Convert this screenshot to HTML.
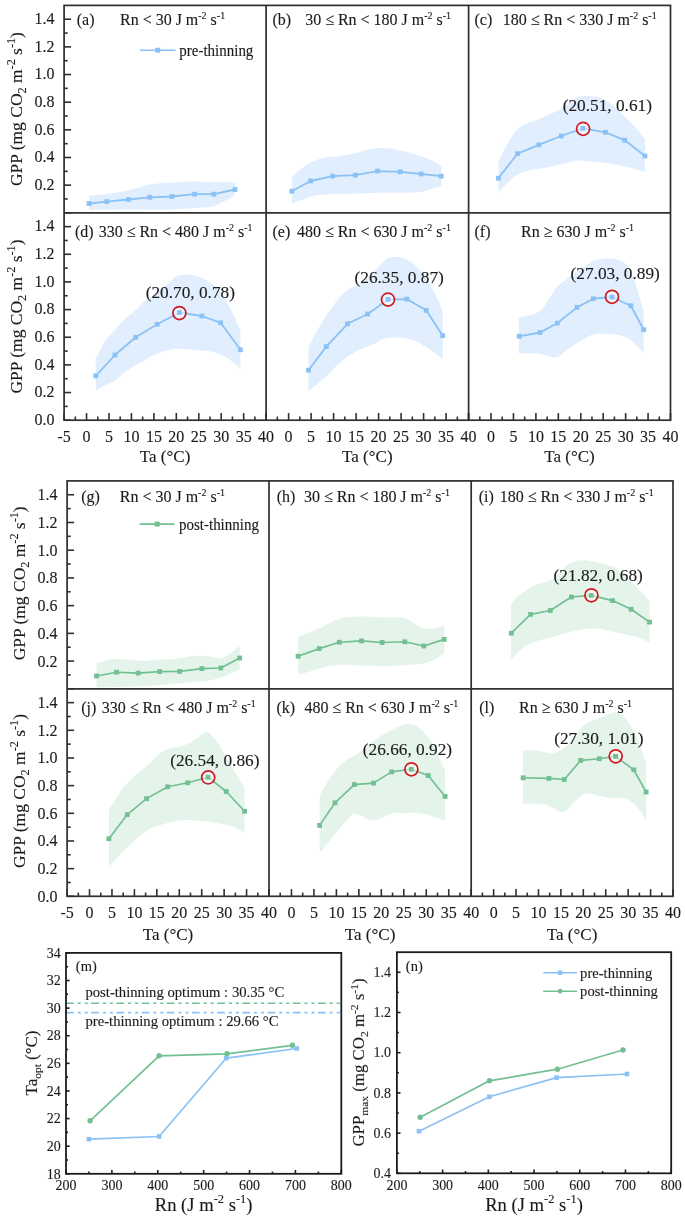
<!DOCTYPE html>
<html><head><meta charset="utf-8"><style>
html,body{margin:0;padding:0;background:#fff;width:685px;height:1217px;overflow:hidden;}
svg{display:block;font-family:"Liberation Serif", serif;will-change:transform;}
text{stroke:#1a1a1a;stroke-width:0.12px;paint-order:stroke;}
</style></head><body>
<svg width="685" height="1217" viewBox="0 0 685 1217" font-family='"Liberation Serif", serif' fill="#1a1a1a">
<rect width="685" height="1217" fill="#fff"/>
<path d="M89,195.5 C91.95,195.25 100.15,194.83 106.7,194 C113.25,193.17 121.12,192.08 128.3,190.5 C135.48,188.92 142.52,185.83 149.8,184.5 C157.08,183.17 164.53,183 172,182.5 C179.47,182 187.63,181.58 194.6,181.5 C201.57,181.42 207.07,181.83 213.8,182 C220.53,182.17 231.47,182.42 235,182.5 L235,195.5 C231.83,197.17 220.17,203.58 216,205.5 C211.83,207.42 213.57,206.55 210,207 C206.43,207.45 200.93,207.82 194.6,208.2 C188.27,208.58 179.47,209.08 172,209.3 C164.53,209.52 157.08,209.5 149.8,209.5 C142.52,209.5 135.48,209.3 128.3,209.3 C121.12,209.3 113.25,209.43 106.7,209.5 C100.15,209.57 91.95,209.67 89,209.7 Z" fill="#e1eefd"/>
<path d="M291.8,176.8 C292.85,175.92 295.95,173.25 298.1,171.5 C300.25,169.75 302.5,167.83 304.7,166.3 C306.9,164.77 308.88,163.5 311.3,162.3 C313.72,161.1 316.35,159.97 319.2,159.1 C322.05,158.23 325.33,157.55 328.4,157.1 C331.47,156.65 334.53,156.73 337.6,156.4 C340.67,156.07 343.73,155.65 346.8,155.1 C349.87,154.55 352.93,153.87 356,153.1 C359.07,152.33 362.38,151.22 365.2,150.5 C368.02,149.78 370.3,149.2 372.9,148.8 C375.5,148.4 377.73,148.1 380.8,148.1 C383.87,148.1 387.8,148.35 391.3,148.8 C394.8,149.25 398.3,150.03 401.8,150.8 C405.3,151.57 408.8,152.42 412.3,153.4 C415.8,154.38 419.52,155.5 422.8,156.7 C426.08,157.9 428.93,159.02 432,160.6 C435.07,162.18 439.67,165.27 441.2,166.2 L441.2,185.4 C440.33,185.77 438.18,186.8 436,187.6 C433.82,188.4 431.17,189.43 428.1,190.2 C425.03,190.97 421.55,191.77 417.6,192.2 C413.65,192.63 408.78,192.7 404.4,192.8 C400.02,192.9 395.68,192.8 391.3,192.8 C386.92,192.8 382.68,192.73 378.1,192.8 C373.52,192.87 368.37,193.02 363.8,193.2 C359.23,193.38 355.07,193.78 350.7,193.9 C346.33,194.02 341.98,193.8 337.6,193.9 C333.22,194 328.35,194.18 324.4,194.5 C320.45,194.82 316.97,195.13 313.9,195.8 C310.83,196.47 308.63,197.62 306,198.5 C303.37,199.38 300.47,200.23 298.1,201.1 C295.73,201.97 292.85,203.27 291.8,203.7 Z" fill="#e1eefd"/>
<path d="M498.5,162.3 C499.27,160.55 501.23,155.53 503.1,151.8 C504.97,148.07 507.5,143.42 509.7,139.9 C511.9,136.38 514.1,133.1 516.3,130.7 C518.5,128.3 520.72,126.92 522.9,125.5 C525.08,124.08 526.78,123.3 529.4,122.2 C532.02,121.1 535.32,120.22 538.6,118.9 C541.88,117.58 545.6,115.83 549.1,114.3 C552.6,112.77 556.32,111.57 559.6,109.7 C562.88,107.83 566.07,105.05 568.8,103.1 C571.53,101.15 573.65,99.15 576,98 C578.35,96.85 580.43,96.5 582.9,96.2 C585.37,95.9 587.73,95.88 590.8,96.2 C593.87,96.52 597.8,96.68 601.3,98.1 C604.8,99.52 608.3,102.07 611.8,104.7 C615.3,107.33 619.02,110.83 622.3,113.9 C625.58,116.97 628.65,120.03 631.5,123.1 C634.35,126.17 637.15,129.48 639.4,132.3 C641.65,135.12 644.07,138.72 645,140 L645,172 C643.63,171.63 639.7,170.62 636.8,169.8 C633.9,168.98 631.33,167.98 627.6,167.1 C623.87,166.22 618.78,165.27 614.4,164.5 C610.02,163.73 605.68,163.05 601.3,162.5 C596.92,161.95 591.65,161.52 588.1,161.2 C584.55,160.88 583.22,160.42 580,160.6 C576.78,160.78 572.85,161.47 568.8,162.3 C564.75,163.13 560.07,164.62 555.7,165.6 C551.33,166.58 546.98,167.43 542.6,168.2 C538.22,168.97 533.78,169 529.4,170.2 C525.02,171.4 520.23,173 516.3,175.4 C512.37,177.8 508.77,181.75 505.8,184.6 C502.83,187.45 499.72,191.18 498.5,192.5 Z" fill="#e1eefd"/>
<path d="M95.8,358.7 C97.27,355.92 102.23,345.92 104.6,342 C106.97,338.08 107.63,337.95 110,335.2 C112.37,332.45 115.88,328.57 118.8,325.5 C121.72,322.43 124.58,319.42 127.5,316.8 C130.42,314.18 133.33,312.52 136.3,309.8 C139.27,307.08 142.5,302.92 145.3,300.5 C148.1,298.08 150.33,297.33 153.1,295.3 C155.87,293.27 158.98,290.63 161.9,288.3 C164.82,285.97 168.12,283.35 170.6,281.3 C173.08,279.25 174.6,277.1 176.8,276 C179,274.9 181.18,274.85 183.8,274.7 C186.42,274.55 189.23,274.47 192.5,275.1 C195.77,275.73 199.62,276.68 203.4,278.5 C207.18,280.32 211.7,282.77 215.2,286 C218.7,289.23 221.55,293.52 224.4,297.9 C227.25,302.28 229.9,307.48 232.3,312.3 C234.7,317.12 237.45,323.73 238.8,326.8 C240.15,329.87 240.13,330.05 240.4,330.7 L240.4,368.8 C239.27,367.82 236.05,364.87 233.6,362.9 C231.15,360.93 228.77,358.75 225.7,357 C222.63,355.25 218.48,353.38 215.2,352.4 C211.92,351.42 209.72,351.53 206,351.1 C202.28,350.67 197.28,350.13 192.9,349.8 C188.52,349.47 183.43,349.1 179.7,349.1 C175.97,349.1 173.78,349.25 170.5,349.8 C167.22,350.35 163.42,351.2 160,352.4 C156.58,353.6 153.33,355.22 150,357 C146.67,358.78 143.92,360.75 140,363.1 C136.08,365.45 130.58,368.3 126.5,371.1 C122.42,373.9 119.15,377.47 115.5,379.9 C111.85,382.33 107.88,383.88 104.6,385.7 C101.32,387.52 97.27,389.95 95.8,390.8 Z" fill="#e1eefd"/>
<path d="M308.5,347.2 C309.27,345.67 311.23,341.5 313.1,338 C314.97,334.5 317.5,329.92 319.7,326.2 C321.9,322.48 324.1,318.98 326.3,315.7 C328.5,312.42 330.72,309.57 332.9,306.5 C335.08,303.43 336.78,300.15 339.4,297.3 C342.02,294.45 345.32,291.62 348.6,289.4 C351.88,287.18 355.6,286.15 359.1,284 C362.6,281.85 366.32,279.32 369.6,276.5 C372.88,273.68 376.4,269.68 378.8,267.1 C381.2,264.52 382.45,262.5 384,261 C385.55,259.5 386.32,258.75 388.1,258.1 C389.88,257.45 392.5,257.2 394.7,257.1 C396.9,257 398.88,256.88 401.3,257.5 C403.72,258.12 406.58,259.17 409.2,260.8 C411.82,262.43 414.38,264.68 417,267.3 C419.62,269.92 422.27,272.77 424.9,276.5 C427.53,280.23 430.38,285.32 432.8,289.7 C435.22,294.08 437.75,299.25 439.4,302.8 C441.05,306.35 442.15,309.63 442.7,311 L442.7,359.5 C442.15,359.03 441.05,358.05 439.4,356.7 C437.75,355.35 435.22,353.15 432.8,351.4 C430.38,349.65 427.75,347.95 424.9,346.2 C422.05,344.45 418.77,342.17 415.7,340.9 C412.63,339.63 409.57,339.15 406.5,338.6 C403.43,338.05 400.37,337.65 397.3,337.6 C394.23,337.55 390.72,337.97 388.1,338.3 C385.48,338.63 383.58,338.82 381.6,339.6 C379.62,340.38 378.85,341.73 376.2,343 C373.55,344.27 368.98,345.83 365.7,347.2 C362.42,348.57 359.78,349.43 356.5,351.2 C353.22,352.97 349.28,355.4 346,357.8 C342.72,360.2 340.08,362.55 336.8,365.6 C333.52,368.65 329.8,372.82 326.3,376.1 C322.8,379.38 318.77,382.77 315.8,385.3 C312.83,387.83 309.72,390.3 308.5,391.3 Z" fill="#e1eefd"/>
<path d="M518.8,317.7 C520.18,317.37 523.75,316.68 527.1,315.7 C530.45,314.72 535.62,313.98 538.9,311.8 C542.18,309.62 543.95,306.55 546.8,302.6 C549.65,298.65 552.93,291.83 556,288.1 C559.07,284.37 561.92,282.83 565.2,280.2 C568.48,277.57 572.2,274.7 575.7,272.3 C579.2,269.9 583.1,267.72 586.2,265.8 C589.3,263.88 591.38,261.93 594.3,260.8 C597.22,259.67 600.58,259.33 603.7,259 C606.82,258.67 609.88,258.4 613,258.8 C616.12,259.2 619.67,259.8 622.4,261.4 C625.13,263 627.47,265.3 629.4,268.4 C631.33,271.5 632.45,275.73 634,280 C635.55,284.27 637.33,289.52 638.7,294 C640.07,298.48 641.37,304.07 642.2,306.9 C643.03,309.73 643.45,310.32 643.7,311 L643.7,352.8 C643.07,352.17 641.32,350.42 639.9,349 C638.48,347.58 636.95,345.97 635.2,344.3 C633.45,342.63 631.53,340.37 629.4,339 C627.27,337.63 625.13,336.88 622.4,336.1 C619.67,335.32 616.12,334.68 613,334.3 C609.88,333.92 606.82,333.8 603.7,333.8 C600.58,333.8 597.22,333.7 594.3,334.3 C591.38,334.9 589.3,335.78 586.2,337.4 C583.1,339.02 579.2,341.7 575.7,344 C572.2,346.3 568.27,349.02 565.2,351.2 C562.13,353.38 559.93,356.23 557.3,357.1 C554.67,357.97 552.25,356.95 549.4,356.4 C546.55,355.85 543.48,354.33 540.2,353.8 C536.92,353.27 533.27,353.3 529.7,353.2 C526.13,353.1 520.62,353.2 518.8,353.2 Z" fill="#e1eefd"/>
<polyline points="89.05,203.5 106.7,201.6 128.5,199.5 149.8,197.3 172,196.5 194.6,194.2 213.8,194.2 235,189.5" fill="none" stroke="#8bc2f5" stroke-width="1.8" stroke-linejoin="round"/>
<polyline points="291.8,191.2 310.6,181 332.6,176.1 355.3,175.1 377.5,171.1 400.2,171.8 421.2,174 441.2,176.1" fill="none" stroke="#8bc2f5" stroke-width="1.8" stroke-linejoin="round"/>
<polyline points="498.4,178.2 517.5,153.7 538.8,144.9 561.2,136 582.9,128.4 605.5,132.3 624.7,140.2 645,156" fill="none" stroke="#8bc2f5" stroke-width="1.8" stroke-linejoin="round"/>
<polyline points="95.8,375.9 115,355 135.7,337.3 157.2,324.3 179.4,312.5 201.8,316 220.7,322.8 240.4,349.8" fill="none" stroke="#8bc2f5" stroke-width="1.8" stroke-linejoin="round"/>
<polyline points="308.5,370.2 326.3,346.6 347.6,323.8 367.7,314 388,299.4 406.9,299.1 426.2,310.3 442.7,335.7" fill="none" stroke="#8bc2f5" stroke-width="1.8" stroke-linejoin="round"/>
<polyline points="519.2,336.3 540,332.5 557.3,323.2 577,307.4 593.4,298.7 612.1,297 630.8,305.7 643.7,329.7" fill="none" stroke="#8bc2f5" stroke-width="1.8" stroke-linejoin="round"/>
<circle cx="583.1" cy="128.85" r="5.6" fill="#fff" fill-opacity="0.55"/>
<circle cx="179.4" cy="313" r="5.6" fill="#fff" fill-opacity="0.55"/>
<circle cx="388" cy="299.6" r="5.6" fill="#fff" fill-opacity="0.55"/>
<circle cx="612" cy="296.8" r="5.6" fill="#fff" fill-opacity="0.55"/>
<rect x="86.65" y="201.1" width="4.8" height="4.8" fill="#8bc2f5"/>
<rect x="104.3" y="199.2" width="4.8" height="4.8" fill="#8bc2f5"/>
<rect x="126.1" y="197.1" width="4.8" height="4.8" fill="#8bc2f5"/>
<rect x="147.4" y="194.9" width="4.8" height="4.8" fill="#8bc2f5"/>
<rect x="169.6" y="194.1" width="4.8" height="4.8" fill="#8bc2f5"/>
<rect x="192.2" y="191.8" width="4.8" height="4.8" fill="#8bc2f5"/>
<rect x="211.4" y="191.8" width="4.8" height="4.8" fill="#8bc2f5"/>
<rect x="232.6" y="187.1" width="4.8" height="4.8" fill="#8bc2f5"/>
<rect x="289.4" y="188.8" width="4.8" height="4.8" fill="#8bc2f5"/>
<rect x="308.2" y="178.6" width="4.8" height="4.8" fill="#8bc2f5"/>
<rect x="330.2" y="173.7" width="4.8" height="4.8" fill="#8bc2f5"/>
<rect x="352.9" y="172.7" width="4.8" height="4.8" fill="#8bc2f5"/>
<rect x="375.1" y="168.7" width="4.8" height="4.8" fill="#8bc2f5"/>
<rect x="397.8" y="169.4" width="4.8" height="4.8" fill="#8bc2f5"/>
<rect x="418.8" y="171.6" width="4.8" height="4.8" fill="#8bc2f5"/>
<rect x="438.8" y="173.7" width="4.8" height="4.8" fill="#8bc2f5"/>
<rect x="496" y="175.8" width="4.8" height="4.8" fill="#8bc2f5"/>
<rect x="515.1" y="151.3" width="4.8" height="4.8" fill="#8bc2f5"/>
<rect x="536.4" y="142.5" width="4.8" height="4.8" fill="#8bc2f5"/>
<rect x="558.8" y="133.6" width="4.8" height="4.8" fill="#8bc2f5"/>
<rect x="580.5" y="126" width="4.8" height="4.8" fill="#8bc2f5"/>
<rect x="603.1" y="129.9" width="4.8" height="4.8" fill="#8bc2f5"/>
<rect x="622.3" y="137.8" width="4.8" height="4.8" fill="#8bc2f5"/>
<rect x="642.6" y="153.6" width="4.8" height="4.8" fill="#8bc2f5"/>
<rect x="93.4" y="373.5" width="4.8" height="4.8" fill="#8bc2f5"/>
<rect x="112.6" y="352.6" width="4.8" height="4.8" fill="#8bc2f5"/>
<rect x="133.3" y="334.9" width="4.8" height="4.8" fill="#8bc2f5"/>
<rect x="154.8" y="321.9" width="4.8" height="4.8" fill="#8bc2f5"/>
<rect x="177" y="310.1" width="4.8" height="4.8" fill="#8bc2f5"/>
<rect x="199.4" y="313.6" width="4.8" height="4.8" fill="#8bc2f5"/>
<rect x="218.3" y="320.4" width="4.8" height="4.8" fill="#8bc2f5"/>
<rect x="238" y="347.4" width="4.8" height="4.8" fill="#8bc2f5"/>
<rect x="306.1" y="367.8" width="4.8" height="4.8" fill="#8bc2f5"/>
<rect x="323.9" y="344.2" width="4.8" height="4.8" fill="#8bc2f5"/>
<rect x="345.2" y="321.4" width="4.8" height="4.8" fill="#8bc2f5"/>
<rect x="365.3" y="311.6" width="4.8" height="4.8" fill="#8bc2f5"/>
<rect x="385.6" y="297" width="4.8" height="4.8" fill="#8bc2f5"/>
<rect x="404.5" y="296.7" width="4.8" height="4.8" fill="#8bc2f5"/>
<rect x="423.8" y="307.9" width="4.8" height="4.8" fill="#8bc2f5"/>
<rect x="440.3" y="333.3" width="4.8" height="4.8" fill="#8bc2f5"/>
<rect x="516.8" y="333.9" width="4.8" height="4.8" fill="#8bc2f5"/>
<rect x="537.6" y="330.1" width="4.8" height="4.8" fill="#8bc2f5"/>
<rect x="554.9" y="320.8" width="4.8" height="4.8" fill="#8bc2f5"/>
<rect x="574.6" y="305" width="4.8" height="4.8" fill="#8bc2f5"/>
<rect x="591" y="296.3" width="4.8" height="4.8" fill="#8bc2f5"/>
<rect x="609.7" y="294.6" width="4.8" height="4.8" fill="#8bc2f5"/>
<rect x="628.4" y="303.3" width="4.8" height="4.8" fill="#8bc2f5"/>
<rect x="641.3" y="327.3" width="4.8" height="4.8" fill="#8bc2f5"/>
<circle cx="583.1" cy="128.85" r="6.5" fill="none" stroke="#d21c25" stroke-width="1.75"/>
<circle cx="179.4" cy="313" r="6.5" fill="none" stroke="#d21c25" stroke-width="1.75"/>
<circle cx="388" cy="299.6" r="6.5" fill="none" stroke="#d21c25" stroke-width="1.75"/>
<circle cx="612" cy="296.8" r="6.5" fill="none" stroke="#d21c25" stroke-width="1.75"/>
<rect x="64.1" y="5.4" width="606.4" height="414.8" fill="none" stroke="#2f2f2f" stroke-width="1.7"/>
<line x1="266.1" y1="5.4" x2="266.1" y2="420.2" stroke="#2f2f2f" stroke-width="1.7"/>
<line x1="468.6" y1="5.4" x2="468.6" y2="420.2" stroke="#2f2f2f" stroke-width="1.7"/>
<line x1="64.1" y1="212.8" x2="670.5" y2="212.8" stroke="#2f2f2f" stroke-width="1.7"/>
<line x1="64.1" y1="212.8" x2="71.1" y2="212.8" stroke="#2f2f2f" stroke-width="1.6"/>
<line x1="64.1" y1="198.97" x2="67.7" y2="198.97" stroke="#2f2f2f" stroke-width="1.6"/>
<line x1="64.1" y1="185.15" x2="71.1" y2="185.15" stroke="#2f2f2f" stroke-width="1.6"/>
<line x1="64.1" y1="171.32" x2="67.7" y2="171.32" stroke="#2f2f2f" stroke-width="1.6"/>
<line x1="64.1" y1="157.49" x2="71.1" y2="157.49" stroke="#2f2f2f" stroke-width="1.6"/>
<line x1="64.1" y1="143.67" x2="67.7" y2="143.67" stroke="#2f2f2f" stroke-width="1.6"/>
<line x1="64.1" y1="129.84" x2="71.1" y2="129.84" stroke="#2f2f2f" stroke-width="1.6"/>
<line x1="64.1" y1="116.01" x2="67.7" y2="116.01" stroke="#2f2f2f" stroke-width="1.6"/>
<line x1="64.1" y1="102.19" x2="71.1" y2="102.19" stroke="#2f2f2f" stroke-width="1.6"/>
<line x1="64.1" y1="88.36" x2="67.7" y2="88.36" stroke="#2f2f2f" stroke-width="1.6"/>
<line x1="64.1" y1="74.53" x2="71.1" y2="74.53" stroke="#2f2f2f" stroke-width="1.6"/>
<line x1="64.1" y1="60.71" x2="67.7" y2="60.71" stroke="#2f2f2f" stroke-width="1.6"/>
<line x1="64.1" y1="46.88" x2="71.1" y2="46.88" stroke="#2f2f2f" stroke-width="1.6"/>
<line x1="64.1" y1="33.05" x2="67.7" y2="33.05" stroke="#2f2f2f" stroke-width="1.6"/>
<line x1="64.1" y1="19.23" x2="71.1" y2="19.23" stroke="#2f2f2f" stroke-width="1.6"/>
<line x1="64.1" y1="420.2" x2="71.1" y2="420.2" stroke="#2f2f2f" stroke-width="1.6"/>
<line x1="64.1" y1="406.37" x2="67.7" y2="406.37" stroke="#2f2f2f" stroke-width="1.6"/>
<line x1="64.1" y1="392.55" x2="71.1" y2="392.55" stroke="#2f2f2f" stroke-width="1.6"/>
<line x1="64.1" y1="378.72" x2="67.7" y2="378.72" stroke="#2f2f2f" stroke-width="1.6"/>
<line x1="64.1" y1="364.89" x2="71.1" y2="364.89" stroke="#2f2f2f" stroke-width="1.6"/>
<line x1="64.1" y1="351.07" x2="67.7" y2="351.07" stroke="#2f2f2f" stroke-width="1.6"/>
<line x1="64.1" y1="337.24" x2="71.1" y2="337.24" stroke="#2f2f2f" stroke-width="1.6"/>
<line x1="64.1" y1="323.41" x2="67.7" y2="323.41" stroke="#2f2f2f" stroke-width="1.6"/>
<line x1="64.1" y1="309.59" x2="71.1" y2="309.59" stroke="#2f2f2f" stroke-width="1.6"/>
<line x1="64.1" y1="295.76" x2="67.7" y2="295.76" stroke="#2f2f2f" stroke-width="1.6"/>
<line x1="64.1" y1="281.93" x2="71.1" y2="281.93" stroke="#2f2f2f" stroke-width="1.6"/>
<line x1="64.1" y1="268.11" x2="67.7" y2="268.11" stroke="#2f2f2f" stroke-width="1.6"/>
<line x1="64.1" y1="254.28" x2="71.1" y2="254.28" stroke="#2f2f2f" stroke-width="1.6"/>
<line x1="64.1" y1="240.45" x2="67.7" y2="240.45" stroke="#2f2f2f" stroke-width="1.6"/>
<line x1="64.1" y1="226.63" x2="71.1" y2="226.63" stroke="#2f2f2f" stroke-width="1.6"/>
<line x1="64.1" y1="420.2" x2="64.1" y2="413" stroke="#2f2f2f" stroke-width="1.6"/>
<line x1="75.32" y1="420.2" x2="75.32" y2="416.5" stroke="#2f2f2f" stroke-width="1.6"/>
<line x1="86.54" y1="420.2" x2="86.54" y2="413" stroke="#2f2f2f" stroke-width="1.6"/>
<line x1="97.77" y1="420.2" x2="97.77" y2="416.5" stroke="#2f2f2f" stroke-width="1.6"/>
<line x1="108.99" y1="420.2" x2="108.99" y2="413" stroke="#2f2f2f" stroke-width="1.6"/>
<line x1="120.21" y1="420.2" x2="120.21" y2="416.5" stroke="#2f2f2f" stroke-width="1.6"/>
<line x1="131.43" y1="420.2" x2="131.43" y2="413" stroke="#2f2f2f" stroke-width="1.6"/>
<line x1="142.66" y1="420.2" x2="142.66" y2="416.5" stroke="#2f2f2f" stroke-width="1.6"/>
<line x1="153.88" y1="420.2" x2="153.88" y2="413" stroke="#2f2f2f" stroke-width="1.6"/>
<line x1="165.1" y1="420.2" x2="165.1" y2="416.5" stroke="#2f2f2f" stroke-width="1.6"/>
<line x1="176.32" y1="420.2" x2="176.32" y2="413" stroke="#2f2f2f" stroke-width="1.6"/>
<line x1="187.54" y1="420.2" x2="187.54" y2="416.5" stroke="#2f2f2f" stroke-width="1.6"/>
<line x1="198.77" y1="420.2" x2="198.77" y2="413" stroke="#2f2f2f" stroke-width="1.6"/>
<line x1="209.99" y1="420.2" x2="209.99" y2="416.5" stroke="#2f2f2f" stroke-width="1.6"/>
<line x1="221.21" y1="420.2" x2="221.21" y2="413" stroke="#2f2f2f" stroke-width="1.6"/>
<line x1="232.43" y1="420.2" x2="232.43" y2="416.5" stroke="#2f2f2f" stroke-width="1.6"/>
<line x1="243.66" y1="420.2" x2="243.66" y2="413" stroke="#2f2f2f" stroke-width="1.6"/>
<line x1="254.88" y1="420.2" x2="254.88" y2="416.5" stroke="#2f2f2f" stroke-width="1.6"/>
<line x1="266.1" y1="420.2" x2="266.1" y2="413" stroke="#2f2f2f" stroke-width="1.6"/>
<line x1="266.1" y1="420.2" x2="266.1" y2="413" stroke="#2f2f2f" stroke-width="1.6"/>
<line x1="277.35" y1="420.2" x2="277.35" y2="416.5" stroke="#2f2f2f" stroke-width="1.6"/>
<line x1="288.6" y1="420.2" x2="288.6" y2="413" stroke="#2f2f2f" stroke-width="1.6"/>
<line x1="299.85" y1="420.2" x2="299.85" y2="416.5" stroke="#2f2f2f" stroke-width="1.6"/>
<line x1="311.1" y1="420.2" x2="311.1" y2="413" stroke="#2f2f2f" stroke-width="1.6"/>
<line x1="322.35" y1="420.2" x2="322.35" y2="416.5" stroke="#2f2f2f" stroke-width="1.6"/>
<line x1="333.6" y1="420.2" x2="333.6" y2="413" stroke="#2f2f2f" stroke-width="1.6"/>
<line x1="344.85" y1="420.2" x2="344.85" y2="416.5" stroke="#2f2f2f" stroke-width="1.6"/>
<line x1="356.1" y1="420.2" x2="356.1" y2="413" stroke="#2f2f2f" stroke-width="1.6"/>
<line x1="367.35" y1="420.2" x2="367.35" y2="416.5" stroke="#2f2f2f" stroke-width="1.6"/>
<line x1="378.6" y1="420.2" x2="378.6" y2="413" stroke="#2f2f2f" stroke-width="1.6"/>
<line x1="389.85" y1="420.2" x2="389.85" y2="416.5" stroke="#2f2f2f" stroke-width="1.6"/>
<line x1="401.1" y1="420.2" x2="401.1" y2="413" stroke="#2f2f2f" stroke-width="1.6"/>
<line x1="412.35" y1="420.2" x2="412.35" y2="416.5" stroke="#2f2f2f" stroke-width="1.6"/>
<line x1="423.6" y1="420.2" x2="423.6" y2="413" stroke="#2f2f2f" stroke-width="1.6"/>
<line x1="434.85" y1="420.2" x2="434.85" y2="416.5" stroke="#2f2f2f" stroke-width="1.6"/>
<line x1="446.1" y1="420.2" x2="446.1" y2="413" stroke="#2f2f2f" stroke-width="1.6"/>
<line x1="457.35" y1="420.2" x2="457.35" y2="416.5" stroke="#2f2f2f" stroke-width="1.6"/>
<line x1="468.6" y1="420.2" x2="468.6" y2="413" stroke="#2f2f2f" stroke-width="1.6"/>
<line x1="468.6" y1="420.2" x2="468.6" y2="413" stroke="#2f2f2f" stroke-width="1.6"/>
<line x1="479.82" y1="420.2" x2="479.82" y2="416.5" stroke="#2f2f2f" stroke-width="1.6"/>
<line x1="491.03" y1="420.2" x2="491.03" y2="413" stroke="#2f2f2f" stroke-width="1.6"/>
<line x1="502.25" y1="420.2" x2="502.25" y2="416.5" stroke="#2f2f2f" stroke-width="1.6"/>
<line x1="513.47" y1="420.2" x2="513.47" y2="413" stroke="#2f2f2f" stroke-width="1.6"/>
<line x1="524.68" y1="420.2" x2="524.68" y2="416.5" stroke="#2f2f2f" stroke-width="1.6"/>
<line x1="535.9" y1="420.2" x2="535.9" y2="413" stroke="#2f2f2f" stroke-width="1.6"/>
<line x1="547.12" y1="420.2" x2="547.12" y2="416.5" stroke="#2f2f2f" stroke-width="1.6"/>
<line x1="558.33" y1="420.2" x2="558.33" y2="413" stroke="#2f2f2f" stroke-width="1.6"/>
<line x1="569.55" y1="420.2" x2="569.55" y2="416.5" stroke="#2f2f2f" stroke-width="1.6"/>
<line x1="580.77" y1="420.2" x2="580.77" y2="413" stroke="#2f2f2f" stroke-width="1.6"/>
<line x1="591.98" y1="420.2" x2="591.98" y2="416.5" stroke="#2f2f2f" stroke-width="1.6"/>
<line x1="603.2" y1="420.2" x2="603.2" y2="413" stroke="#2f2f2f" stroke-width="1.6"/>
<line x1="614.42" y1="420.2" x2="614.42" y2="416.5" stroke="#2f2f2f" stroke-width="1.6"/>
<line x1="625.63" y1="420.2" x2="625.63" y2="413" stroke="#2f2f2f" stroke-width="1.6"/>
<line x1="636.85" y1="420.2" x2="636.85" y2="416.5" stroke="#2f2f2f" stroke-width="1.6"/>
<line x1="648.07" y1="420.2" x2="648.07" y2="413" stroke="#2f2f2f" stroke-width="1.6"/>
<line x1="659.28" y1="420.2" x2="659.28" y2="416.5" stroke="#2f2f2f" stroke-width="1.6"/>
<line x1="670.5" y1="420.2" x2="670.5" y2="413" stroke="#2f2f2f" stroke-width="1.6"/>
<text x="562.7" y="110.7" font-size="17.3" text-anchor="start">(20.51, 0.61)</text>
<text x="145.7" y="298.3" font-size="17.3" text-anchor="start">(20.70, 0.78)</text>
<text x="354.5" y="283.4" font-size="17.3" text-anchor="start">(26.35, 0.87)</text>
<text x="570.6" y="278.9" font-size="17.3" text-anchor="start">(27.03, 0.89)</text>
<text transform="translate(76.8,24.9) scale(1.0,1.06)" font-size="16" text-anchor="start">(a)</text>
<text transform="translate(120,24.9) scale(1.0,1.06)" font-size="16" text-anchor="start">Rn &lt; 30 J m<tspan dy="-5.5" font-size="10">-2</tspan><tspan dy="5.5"> s</tspan><tspan dy="-5.5" font-size="10">-1</tspan></text>
<text transform="translate(272.5,24.9) scale(1.0,1.06)" font-size="16" text-anchor="start">(b)</text>
<text transform="translate(305.2,24.9) scale(1.0,1.06)" font-size="16" text-anchor="start">30 &#8804; Rn &lt; 180 J m<tspan dy="-5.5" font-size="10">-2</tspan><tspan dy="5.5"> s</tspan><tspan dy="-5.5" font-size="10">-1</tspan></text>
<text transform="translate(474.5,24.9) scale(1.0,1.06)" font-size="16" text-anchor="start">(c)</text>
<text transform="translate(502.8,24.9) scale(1.0,1.06)" font-size="16" text-anchor="start">180 &#8804; Rn &lt; 330 J m<tspan dy="-5.5" font-size="10">-2</tspan><tspan dy="5.5"> s</tspan><tspan dy="-5.5" font-size="10">-1</tspan></text>
<text transform="translate(74.9,236.7) scale(1.0,1.06)" font-size="16" text-anchor="start">(d)</text>
<text transform="translate(98.7,236.7) scale(1.0,1.06)" font-size="16" text-anchor="start">330 &#8804; Rn &lt; 480 J m<tspan dy="-5.5" font-size="10">-2</tspan><tspan dy="5.5"> s</tspan><tspan dy="-5.5" font-size="10">-1</tspan></text>
<text transform="translate(272.5,236.7) scale(1.0,1.06)" font-size="16" text-anchor="start">(e)</text>
<text transform="translate(297,236.7) scale(1.0,1.06)" font-size="16" text-anchor="start">480 &#8804; Rn &lt; 630 J m<tspan dy="-5.5" font-size="10">-2</tspan><tspan dy="5.5"> s</tspan><tspan dy="-5.5" font-size="10">-1</tspan></text>
<text transform="translate(474.5,236.7) scale(1.0,1.06)" font-size="16" text-anchor="start">(f)</text>
<text transform="translate(521.1,236.7) scale(1.0,1.06)" font-size="16" text-anchor="start">Rn &#8805; 630 J m<tspan dy="-5.5" font-size="10">-2</tspan><tspan dy="5.5"> s</tspan><tspan dy="-5.5" font-size="10">-1</tspan></text>
<line x1="139.9" y1="50.2" x2="175.5" y2="50.2" stroke="#8bc2f5" stroke-width="1.6"/>
<rect x="155.2" y="47.7" width="5" height="5" fill="#8bc2f5"/>
<text transform="translate(179.3,55.5) scale(1.0,1.06)" font-size="15" text-anchor="start">pre-thinning</text>
<text transform="translate(54.5,189.85) scale(1.0,1.06)" font-size="16" text-anchor="end">0.2</text>
<text transform="translate(54.5,162.19) scale(1.0,1.06)" font-size="16" text-anchor="end">0.4</text>
<text transform="translate(54.5,134.54) scale(1.0,1.06)" font-size="16" text-anchor="end">0.6</text>
<text transform="translate(54.5,106.89) scale(1.0,1.06)" font-size="16" text-anchor="end">0.8</text>
<text transform="translate(54.5,79.23) scale(1.0,1.06)" font-size="16" text-anchor="end">1.0</text>
<text transform="translate(54.5,51.58) scale(1.0,1.06)" font-size="16" text-anchor="end">1.2</text>
<text transform="translate(54.5,23.93) scale(1.0,1.06)" font-size="16" text-anchor="end">1.4</text>
<text transform="translate(54.5,424.9) scale(1.0,1.06)" font-size="16" text-anchor="end">0.0</text>
<text transform="translate(54.5,397.25) scale(1.0,1.06)" font-size="16" text-anchor="end">0.2</text>
<text transform="translate(54.5,369.59) scale(1.0,1.06)" font-size="16" text-anchor="end">0.4</text>
<text transform="translate(54.5,341.94) scale(1.0,1.06)" font-size="16" text-anchor="end">0.6</text>
<text transform="translate(54.5,314.29) scale(1.0,1.06)" font-size="16" text-anchor="end">0.8</text>
<text transform="translate(54.5,286.63) scale(1.0,1.06)" font-size="16" text-anchor="end">1.0</text>
<text transform="translate(54.5,258.98) scale(1.0,1.06)" font-size="16" text-anchor="end">1.2</text>
<text transform="translate(54.5,231.33) scale(1.0,1.06)" font-size="16" text-anchor="end">1.4</text>
<text transform="translate(64.1,441.7) scale(1.0,1.06)" font-size="16" text-anchor="middle">-5</text>
<text transform="translate(86.54,441.7) scale(1.0,1.06)" font-size="16" text-anchor="middle">0</text>
<text transform="translate(108.99,441.7) scale(1.0,1.06)" font-size="16" text-anchor="middle">5</text>
<text transform="translate(131.43,441.7) scale(1.0,1.06)" font-size="16" text-anchor="middle">10</text>
<text transform="translate(153.88,441.7) scale(1.0,1.06)" font-size="16" text-anchor="middle">15</text>
<text transform="translate(176.32,441.7) scale(1.0,1.06)" font-size="16" text-anchor="middle">20</text>
<text transform="translate(198.77,441.7) scale(1.0,1.06)" font-size="16" text-anchor="middle">25</text>
<text transform="translate(221.21,441.7) scale(1.0,1.06)" font-size="16" text-anchor="middle">30</text>
<text transform="translate(243.66,441.7) scale(1.0,1.06)" font-size="16" text-anchor="middle">35</text>
<text transform="translate(266.1,441.7) scale(1.0,1.06)" font-size="16" text-anchor="middle">40</text>
<text x="165.1" y="462" font-size="17" text-anchor="middle">Ta (&#176;C)</text>
<text transform="translate(288.6,441.7) scale(1.0,1.06)" font-size="16" text-anchor="middle">0</text>
<text transform="translate(311.1,441.7) scale(1.0,1.06)" font-size="16" text-anchor="middle">5</text>
<text transform="translate(333.6,441.7) scale(1.0,1.06)" font-size="16" text-anchor="middle">10</text>
<text transform="translate(356.1,441.7) scale(1.0,1.06)" font-size="16" text-anchor="middle">15</text>
<text transform="translate(378.6,441.7) scale(1.0,1.06)" font-size="16" text-anchor="middle">20</text>
<text transform="translate(401.1,441.7) scale(1.0,1.06)" font-size="16" text-anchor="middle">25</text>
<text transform="translate(423.6,441.7) scale(1.0,1.06)" font-size="16" text-anchor="middle">30</text>
<text transform="translate(446.1,441.7) scale(1.0,1.06)" font-size="16" text-anchor="middle">35</text>
<text transform="translate(468.6,441.7) scale(1.0,1.06)" font-size="16" text-anchor="middle">40</text>
<text x="367.35" y="462" font-size="17" text-anchor="middle">Ta (&#176;C)</text>
<text transform="translate(491.03,441.7) scale(1.0,1.06)" font-size="16" text-anchor="middle">0</text>
<text transform="translate(513.47,441.7) scale(1.0,1.06)" font-size="16" text-anchor="middle">5</text>
<text transform="translate(535.9,441.7) scale(1.0,1.06)" font-size="16" text-anchor="middle">10</text>
<text transform="translate(558.33,441.7) scale(1.0,1.06)" font-size="16" text-anchor="middle">15</text>
<text transform="translate(580.77,441.7) scale(1.0,1.06)" font-size="16" text-anchor="middle">20</text>
<text transform="translate(603.2,441.7) scale(1.0,1.06)" font-size="16" text-anchor="middle">25</text>
<text transform="translate(625.63,441.7) scale(1.0,1.06)" font-size="16" text-anchor="middle">30</text>
<text transform="translate(648.07,441.7) scale(1.0,1.06)" font-size="16" text-anchor="middle">35</text>
<text transform="translate(670.5,441.7) scale(1.0,1.06)" font-size="16" text-anchor="middle">40</text>
<text x="569.55" y="462" font-size="17" text-anchor="middle">Ta (&#176;C)</text>
<text transform="translate(22.3,109.1) rotate(-90) scale(1.06,1)" font-size="16.5" text-anchor="middle">GPP (mg CO<tspan dy="3.8" font-size="11.5">2</tspan><tspan dy="-3.8"> m</tspan><tspan dy="-7" font-size="11.5">-2</tspan><tspan dy="7"> s</tspan><tspan dy="-7" font-size="11.5">-1</tspan><tspan dy="7">)</tspan></text>
<text transform="translate(22.3,316.5) rotate(-90) scale(1.06,1)" font-size="16.5" text-anchor="middle">GPP (mg CO<tspan dy="3.8" font-size="11.5">2</tspan><tspan dy="-3.8"> m</tspan><tspan dy="-7" font-size="11.5">-2</tspan><tspan dy="7"> s</tspan><tspan dy="-7" font-size="11.5">-1</tspan><tspan dy="7">)</tspan></text>
<path d="M96.5,663.6 C97.75,663.17 101.15,661.77 104,661 C106.85,660.23 109.37,659.22 113.6,659 C117.83,658.78 124.58,659.37 129.4,659.7 C134.22,660.03 138.12,661 142.5,661 C146.88,661 151.12,659.98 155.7,659.7 C160.28,659.42 165.67,659.62 170,659.3 C174.33,658.98 177.8,658.35 181.7,657.8 C185.6,657.25 190.1,656.4 193.4,656 C196.7,655.6 198.78,655.3 201.5,655.4 C204.22,655.5 206.78,656.1 209.7,656.6 C212.62,657.1 216.27,658.5 219,658.4 C221.73,658.3 223.75,657.17 226.1,656 C228.45,654.83 230.83,653.05 233.1,651.4 C235.37,649.75 238.6,646.98 239.7,646.1 L239.7,669.5 C238.6,669.98 235.57,671.33 233.1,672.4 C230.63,673.47 227.63,674.83 224.9,675.9 C222.17,676.97 220.02,677.93 216.7,678.8 C213.38,679.67 208.88,680.58 205,681.1 C201.12,681.62 197.28,681.58 193.4,681.9 C189.52,682.22 185.27,682.68 181.7,683 C178.13,683.32 175.68,683.43 172,683.8 C168.32,684.17 165.25,684.78 159.6,685.2 C153.95,685.62 145.28,686 138.1,686.3 C130.92,686.6 123.43,686.8 116.5,687 C109.57,687.2 99.83,687.42 96.5,687.5 Z" fill="#e5f4eb"/>
<path d="M298.1,637.2 C300.03,636.43 305.8,634.25 309.7,632.6 C313.6,630.95 317.78,629.05 321.5,627.3 C325.22,625.55 328.48,623.63 332,622.1 C335.52,620.57 339.08,618.98 342.6,618.1 C346.12,617.22 349.6,617.05 353.1,616.8 C356.6,616.55 359.78,616.52 363.6,616.6 C367.42,616.68 372.75,617.15 376,617.3 C379.25,617.45 379.72,617.47 383.1,617.5 C386.48,617.53 392.78,617.4 396.3,617.5 C399.82,617.6 401.58,617.33 404.2,618.1 C406.82,618.87 409.38,620.67 412,622.1 C414.62,623.53 417.27,625.6 419.9,626.7 C422.53,627.8 425.17,628.48 427.8,628.7 C430.43,628.92 432.97,628.48 435.7,628 C438.43,627.52 442.78,626.17 444.2,625.8 L444.2,653.4 C443.43,653.87 441.45,655.07 439.6,656.2 C437.75,657.33 435.93,658.98 433.1,660.2 C430.27,661.42 426.55,662.73 422.6,663.5 C418.65,664.27 413.78,664.48 409.4,664.8 C405.02,665.12 400.68,665.18 396.3,665.4 C391.92,665.62 387.68,666.05 383.1,666.1 C378.52,666.15 373.37,665.85 368.8,665.7 C364.23,665.55 359.63,665.35 355.7,665.2 C351.77,665.05 348.7,664.8 345.2,664.8 C341.7,664.8 338.42,664.77 334.7,665.2 C330.98,665.63 327.07,666.37 322.9,667.4 C318.73,668.43 313.83,670.2 309.7,671.4 C305.57,672.6 300.03,674.07 298.1,674.6 Z" fill="#e5f4eb"/>
<path d="M510.8,604.9 C511.58,603.82 513.62,600.37 515.5,598.4 C517.38,596.43 519.9,594.75 522.1,593.1 C524.3,591.45 526.52,589.82 528.7,588.5 C530.88,587.18 532.58,586.18 535.2,585.2 C537.82,584.22 541.98,583.37 544.4,582.6 C546.82,581.83 547.95,581.48 549.7,580.6 C551.45,579.72 552.93,578.93 554.9,577.3 C556.87,575.67 559.3,572.98 561.5,570.8 C563.7,568.62 565.68,565.85 568.1,564.2 C570.52,562.55 573.38,561.55 576,560.9 C578.62,560.25 581.18,560.23 583.8,560.3 C586.42,560.37 588.43,560.68 591.7,561.3 C594.97,561.92 599.9,563.15 603.4,564 C606.9,564.85 609.98,565.23 612.7,566.4 C615.42,567.57 617.37,569.25 619.7,571 C622.03,572.75 624.37,574.75 626.7,576.9 C629.03,579.05 631.17,581.38 633.7,583.9 C636.23,586.42 639.27,589.08 641.9,592 C644.53,594.92 648.23,599.83 649.5,601.4 L649.5,642.3 C648.82,642 647.25,641.28 645.4,640.5 C643.55,639.72 641.12,638.47 638.4,637.6 C635.68,636.73 632.02,635.98 629.1,635.3 C626.18,634.62 623.63,634.08 620.9,633.5 C618.17,632.92 615.62,632.48 612.7,631.8 C609.78,631.12 606.9,629.95 603.4,629.4 C599.9,628.85 594.97,628.48 591.7,628.5 C588.43,628.52 586.87,629.05 583.8,629.5 C580.73,629.95 576.58,630.48 573.3,631.2 C570.02,631.92 567.17,632.92 564.1,633.8 C561.03,634.68 558.18,635.62 554.9,636.5 C551.62,637.38 547.68,638.23 544.4,639.1 C541.12,639.97 538.27,640.6 535.2,641.7 C532.13,642.8 528.85,643.95 526,645.7 C523.15,647.45 520.63,649.8 518.1,652.2 C515.57,654.6 512.02,658.78 510.8,660.1 Z" fill="#e5f4eb"/>
<path d="M108.9,809.8 C109.83,808.37 112.48,804.38 114.5,801.2 C116.52,798.02 118.82,793.77 121,790.7 C123.18,787.63 125.4,785.22 127.6,782.8 C129.8,780.38 131.8,778.38 134.2,776.2 C136.6,774.02 139.38,771.88 142,769.7 C144.62,767.52 147.27,765.52 149.9,763.1 C152.53,760.68 155.17,757.38 157.8,755.2 C160.43,753.02 162.63,751.32 165.7,750 C168.77,748.68 173.13,748.05 176.2,747.3 C179.27,746.55 181.8,746.3 184.1,745.5 C186.4,744.7 188.02,743.63 190,742.5 C191.98,741.37 193.83,740.22 196,738.7 C198.17,737.18 201.05,734.47 203,733.4 C204.95,732.33 206.13,731.8 207.7,732.3 C209.27,732.8 210.65,734.55 212.4,736.4 C214.15,738.25 216.25,740.48 218.2,743.4 C220.15,746.32 221.95,750.22 224.1,753.9 C226.25,757.58 228.77,761.62 231.1,765.5 C233.43,769.38 235.85,773.4 238.1,777.2 C240.35,781 243.52,786.45 244.6,788.3 L244.6,833.3 C243.52,832.62 240.55,830.47 238.1,829.2 C235.65,827.93 232.63,826.58 229.9,825.7 C227.17,824.82 224.43,824.43 221.7,823.9 C218.97,823.37 215.83,822.88 213.5,822.5 C211.17,822.12 209.63,821.85 207.7,821.6 C205.77,821.35 204.23,821.2 201.9,821 C199.57,820.8 196.63,820.58 193.7,820.4 C190.77,820.22 187.65,819.72 184.3,819.9 C180.95,820.08 177.13,820.78 173.6,821.5 C170.07,822.22 166.6,823.2 163.1,824.2 C159.6,825.2 156.12,825.85 152.6,827.5 C149.08,829.15 145.28,831.7 142,834.1 C138.72,836.5 135.95,839.17 132.9,841.9 C129.85,844.63 126.55,847.65 123.7,850.5 C120.85,853.35 118.27,856.27 115.8,859 C113.33,861.73 110.05,865.58 108.9,866.9 Z" fill="#e5f4eb"/>
<path d="M319.6,795.8 C320.52,794.17 323.08,789.4 325.1,786 C327.12,782.6 329.5,778.47 331.7,775.4 C333.9,772.33 335.88,770.12 338.3,767.6 C340.72,765.08 343.58,762.28 346.2,760.3 C348.82,758.32 351.38,757.33 354,755.7 C356.62,754.07 359.27,752.47 361.9,750.5 C364.53,748.53 367.17,745.98 369.8,743.9 C372.43,741.82 375.12,739.73 377.7,738 C380.28,736.27 382.92,734.83 385.3,733.5 C387.68,732.17 389.72,731.18 392,730 C394.28,728.82 396.67,727.4 399,726.4 C401.33,725.4 403.67,724.3 406,724 C408.33,723.7 410.67,723.82 413,724.6 C415.33,725.38 417.67,726.85 420,728.7 C422.33,730.55 424.85,733.17 427,735.7 C429.15,738.23 430.95,740.4 432.9,743.9 C434.85,747.4 436.95,752.82 438.7,756.7 C440.45,760.58 442.33,764.82 443.4,767.2 C444.47,769.58 444.82,770.37 445.1,771 L445.1,821 C444.23,820.7 441.75,819.88 439.9,819.2 C438.05,818.52 436.15,817.68 434,816.9 C431.85,816.12 429.33,815.08 427,814.5 C424.67,813.92 422.33,813.68 420,813.4 C417.67,813.12 415.33,812.8 413,812.8 C410.67,812.8 408.33,813.4 406,813.4 C403.67,813.4 401.53,812.7 399,812.8 C396.47,812.9 393.47,813.22 390.8,814 C388.13,814.78 385.4,816.48 383,817.5 C380.6,818.52 378.6,819.67 376.4,820.1 C374.2,820.53 372.22,820.75 369.8,820.1 C367.38,819.45 364.3,817.18 361.9,816.2 C359.5,815.22 357.15,814.32 355.4,814.2 C353.65,814.08 353.38,813.85 351.4,815.5 C349.42,817.15 346.12,821.13 343.5,824.1 C340.88,827.07 338.32,830.13 335.7,833.3 C333.08,836.47 330.48,839.82 327.8,843.1 C325.12,846.38 320.97,851.35 319.6,853 Z" fill="#e5f4eb"/>
<path d="M522.8,750.6 C524.78,750.6 531.18,750.38 534.7,750.6 C538.22,750.82 541.05,751.47 543.9,751.9 C546.75,752.33 549.38,753.32 551.8,753.2 C554.22,753.08 556.43,751.97 558.4,751.2 C560.37,750.43 561.63,750.13 563.6,748.6 C565.57,747.07 567.78,744.85 570.2,742 C572.62,739.15 575.47,734.63 578.1,731.5 C580.73,728.37 583.3,725.13 586,723.2 C588.7,721.27 591.35,721.03 594.3,719.9 C597.25,718.77 600.58,717.58 603.7,716.4 C606.82,715.22 610.67,713.48 613,712.8 C615.33,712.12 615.95,711.7 617.7,712.3 C619.45,712.9 621.55,714.55 623.5,716.4 C625.45,718.25 627.45,720.48 629.4,723.4 C631.35,726.32 633.45,730.22 635.2,733.9 C636.95,737.58 638.33,741.42 639.9,745.5 C641.47,749.58 643.57,755.28 644.6,758.4 C645.63,761.52 645.85,763.23 646.1,764.2 L646.1,820.3 C645.27,818.93 642.92,814.63 641.1,812.1 C639.28,809.57 637.15,807.05 635.2,805.1 C633.25,803.15 631.53,801.57 629.4,800.4 C627.27,799.23 625.13,798.48 622.4,798.1 C619.67,797.72 616.12,798.3 613,798.1 C609.88,797.9 606.82,797.48 603.7,796.9 C600.58,796.32 597.25,795.17 594.3,794.6 C591.35,794.03 588.7,792.83 586,793.5 C583.3,794.17 580.52,796.67 578.1,798.6 C575.68,800.53 573.7,802.92 571.5,805.1 C569.3,807.28 567.08,810.72 564.9,811.7 C562.72,812.68 560.58,811.65 558.4,811 C556.22,810.35 554,808.88 551.8,807.8 C549.6,806.72 548.05,805.17 545.2,804.5 C542.35,803.83 538.43,803.92 534.7,803.8 C530.97,803.68 524.78,803.8 522.8,803.8 Z" fill="#e5f4eb"/>
<polyline points="96.5,676 116.5,672.2 138.1,673.1 159.6,671.6 179.6,671.4 201.8,668.6 220.8,668 239.7,658" fill="none" stroke="#72bf91" stroke-width="1.65" stroke-linejoin="round"/>
<polyline points="298.1,656.2 319.2,648.6 339.3,642.2 361.6,640.9 382.1,642.5 404.8,641.8 423.9,646 444.2,639.4" fill="none" stroke="#72bf91" stroke-width="1.65" stroke-linejoin="round"/>
<polyline points="511.3,633.2 530.6,614.4 550.3,610.5 571.4,597 591.2,595.4 612.5,600.6 631.2,609.3 649.5,622.1" fill="none" stroke="#72bf91" stroke-width="1.65" stroke-linejoin="round"/>
<polyline points="108.9,838.7 127.3,814.6 146.6,798.6 167.7,786.8 187.7,782.8 208,777.2 226.2,791.5 244.6,811.3" fill="none" stroke="#72bf91" stroke-width="1.65" stroke-linejoin="round"/>
<polyline points="319.6,825.4 335,802.8 354.3,784.6 373.5,783.1 391.6,771.9 411.3,769.3 428.2,775.6 445.1,796.4" fill="none" stroke="#72bf91" stroke-width="1.65" stroke-linejoin="round"/>
<polyline points="523.1,777.8 548.9,778.4 564.3,779.5 580.7,760.4 599.3,758.7 615.6,756.4 633.8,769.8 646.1,792" fill="none" stroke="#72bf91" stroke-width="1.65" stroke-linejoin="round"/>
<circle cx="591.4" cy="595.3" r="5.6" fill="#fff" fill-opacity="0.55"/>
<circle cx="208.2" cy="777.4" r="5.6" fill="#fff" fill-opacity="0.55"/>
<circle cx="411.4" cy="769.3" r="5.6" fill="#fff" fill-opacity="0.55"/>
<circle cx="615.7" cy="756.3" r="5.6" fill="#fff" fill-opacity="0.55"/>
<rect x="94.1" y="673.6" width="4.8" height="4.8" fill="#72bf91"/>
<rect x="114.1" y="669.8" width="4.8" height="4.8" fill="#72bf91"/>
<rect x="135.7" y="670.7" width="4.8" height="4.8" fill="#72bf91"/>
<rect x="157.2" y="669.2" width="4.8" height="4.8" fill="#72bf91"/>
<rect x="177.2" y="669" width="4.8" height="4.8" fill="#72bf91"/>
<rect x="199.4" y="666.2" width="4.8" height="4.8" fill="#72bf91"/>
<rect x="218.4" y="665.6" width="4.8" height="4.8" fill="#72bf91"/>
<rect x="237.3" y="655.6" width="4.8" height="4.8" fill="#72bf91"/>
<rect x="295.7" y="653.8" width="4.8" height="4.8" fill="#72bf91"/>
<rect x="316.8" y="646.2" width="4.8" height="4.8" fill="#72bf91"/>
<rect x="336.9" y="639.8" width="4.8" height="4.8" fill="#72bf91"/>
<rect x="359.2" y="638.5" width="4.8" height="4.8" fill="#72bf91"/>
<rect x="379.7" y="640.1" width="4.8" height="4.8" fill="#72bf91"/>
<rect x="402.4" y="639.4" width="4.8" height="4.8" fill="#72bf91"/>
<rect x="421.5" y="643.6" width="4.8" height="4.8" fill="#72bf91"/>
<rect x="441.8" y="637" width="4.8" height="4.8" fill="#72bf91"/>
<rect x="508.9" y="630.8" width="4.8" height="4.8" fill="#72bf91"/>
<rect x="528.2" y="612" width="4.8" height="4.8" fill="#72bf91"/>
<rect x="547.9" y="608.1" width="4.8" height="4.8" fill="#72bf91"/>
<rect x="569" y="594.6" width="4.8" height="4.8" fill="#72bf91"/>
<rect x="588.8" y="593" width="4.8" height="4.8" fill="#72bf91"/>
<rect x="610.1" y="598.2" width="4.8" height="4.8" fill="#72bf91"/>
<rect x="628.8" y="606.9" width="4.8" height="4.8" fill="#72bf91"/>
<rect x="647.1" y="619.7" width="4.8" height="4.8" fill="#72bf91"/>
<rect x="106.5" y="836.3" width="4.8" height="4.8" fill="#72bf91"/>
<rect x="124.9" y="812.2" width="4.8" height="4.8" fill="#72bf91"/>
<rect x="144.2" y="796.2" width="4.8" height="4.8" fill="#72bf91"/>
<rect x="165.3" y="784.4" width="4.8" height="4.8" fill="#72bf91"/>
<rect x="185.3" y="780.4" width="4.8" height="4.8" fill="#72bf91"/>
<rect x="205.6" y="774.8" width="4.8" height="4.8" fill="#72bf91"/>
<rect x="223.8" y="789.1" width="4.8" height="4.8" fill="#72bf91"/>
<rect x="242.2" y="808.9" width="4.8" height="4.8" fill="#72bf91"/>
<rect x="317.2" y="823" width="4.8" height="4.8" fill="#72bf91"/>
<rect x="332.6" y="800.4" width="4.8" height="4.8" fill="#72bf91"/>
<rect x="351.9" y="782.2" width="4.8" height="4.8" fill="#72bf91"/>
<rect x="371.1" y="780.7" width="4.8" height="4.8" fill="#72bf91"/>
<rect x="389.2" y="769.5" width="4.8" height="4.8" fill="#72bf91"/>
<rect x="408.9" y="766.9" width="4.8" height="4.8" fill="#72bf91"/>
<rect x="425.8" y="773.2" width="4.8" height="4.8" fill="#72bf91"/>
<rect x="442.7" y="794" width="4.8" height="4.8" fill="#72bf91"/>
<rect x="520.7" y="775.4" width="4.8" height="4.8" fill="#72bf91"/>
<rect x="546.5" y="776" width="4.8" height="4.8" fill="#72bf91"/>
<rect x="561.9" y="777.1" width="4.8" height="4.8" fill="#72bf91"/>
<rect x="578.3" y="758" width="4.8" height="4.8" fill="#72bf91"/>
<rect x="596.9" y="756.3" width="4.8" height="4.8" fill="#72bf91"/>
<rect x="613.2" y="754" width="4.8" height="4.8" fill="#72bf91"/>
<rect x="631.4" y="767.4" width="4.8" height="4.8" fill="#72bf91"/>
<rect x="643.7" y="789.6" width="4.8" height="4.8" fill="#72bf91"/>
<circle cx="591.4" cy="595.3" r="6.5" fill="none" stroke="#d21c25" stroke-width="1.75"/>
<circle cx="208.2" cy="777.4" r="6.5" fill="none" stroke="#d21c25" stroke-width="1.75"/>
<circle cx="411.4" cy="769.3" r="6.5" fill="none" stroke="#d21c25" stroke-width="1.75"/>
<circle cx="615.7" cy="756.3" r="6.5" fill="none" stroke="#d21c25" stroke-width="1.75"/>
<rect x="67.1" y="480.9" width="605.9" height="415.4" fill="none" stroke="#2f2f2f" stroke-width="1.7"/>
<line x1="269" y1="480.9" x2="269" y2="896.3" stroke="#2f2f2f" stroke-width="1.7"/>
<line x1="471.2" y1="480.9" x2="471.2" y2="896.3" stroke="#2f2f2f" stroke-width="1.7"/>
<line x1="67.1" y1="688.8" x2="673" y2="688.8" stroke="#2f2f2f" stroke-width="1.7"/>
<line x1="67.1" y1="688.8" x2="74.1" y2="688.8" stroke="#2f2f2f" stroke-width="1.6"/>
<line x1="67.1" y1="674.94" x2="70.7" y2="674.94" stroke="#2f2f2f" stroke-width="1.6"/>
<line x1="67.1" y1="661.08" x2="74.1" y2="661.08" stroke="#2f2f2f" stroke-width="1.6"/>
<line x1="67.1" y1="647.22" x2="70.7" y2="647.22" stroke="#2f2f2f" stroke-width="1.6"/>
<line x1="67.1" y1="633.36" x2="74.1" y2="633.36" stroke="#2f2f2f" stroke-width="1.6"/>
<line x1="67.1" y1="619.5" x2="70.7" y2="619.5" stroke="#2f2f2f" stroke-width="1.6"/>
<line x1="67.1" y1="605.64" x2="74.1" y2="605.64" stroke="#2f2f2f" stroke-width="1.6"/>
<line x1="67.1" y1="591.78" x2="70.7" y2="591.78" stroke="#2f2f2f" stroke-width="1.6"/>
<line x1="67.1" y1="577.92" x2="74.1" y2="577.92" stroke="#2f2f2f" stroke-width="1.6"/>
<line x1="67.1" y1="564.06" x2="70.7" y2="564.06" stroke="#2f2f2f" stroke-width="1.6"/>
<line x1="67.1" y1="550.2" x2="74.1" y2="550.2" stroke="#2f2f2f" stroke-width="1.6"/>
<line x1="67.1" y1="536.34" x2="70.7" y2="536.34" stroke="#2f2f2f" stroke-width="1.6"/>
<line x1="67.1" y1="522.48" x2="74.1" y2="522.48" stroke="#2f2f2f" stroke-width="1.6"/>
<line x1="67.1" y1="508.62" x2="70.7" y2="508.62" stroke="#2f2f2f" stroke-width="1.6"/>
<line x1="67.1" y1="494.76" x2="74.1" y2="494.76" stroke="#2f2f2f" stroke-width="1.6"/>
<line x1="67.1" y1="896.3" x2="74.1" y2="896.3" stroke="#2f2f2f" stroke-width="1.6"/>
<line x1="67.1" y1="882.47" x2="70.7" y2="882.47" stroke="#2f2f2f" stroke-width="1.6"/>
<line x1="67.1" y1="868.63" x2="74.1" y2="868.63" stroke="#2f2f2f" stroke-width="1.6"/>
<line x1="67.1" y1="854.8" x2="70.7" y2="854.8" stroke="#2f2f2f" stroke-width="1.6"/>
<line x1="67.1" y1="840.97" x2="74.1" y2="840.97" stroke="#2f2f2f" stroke-width="1.6"/>
<line x1="67.1" y1="827.13" x2="70.7" y2="827.13" stroke="#2f2f2f" stroke-width="1.6"/>
<line x1="67.1" y1="813.3" x2="74.1" y2="813.3" stroke="#2f2f2f" stroke-width="1.6"/>
<line x1="67.1" y1="799.47" x2="70.7" y2="799.47" stroke="#2f2f2f" stroke-width="1.6"/>
<line x1="67.1" y1="785.63" x2="74.1" y2="785.63" stroke="#2f2f2f" stroke-width="1.6"/>
<line x1="67.1" y1="771.8" x2="70.7" y2="771.8" stroke="#2f2f2f" stroke-width="1.6"/>
<line x1="67.1" y1="757.97" x2="74.1" y2="757.97" stroke="#2f2f2f" stroke-width="1.6"/>
<line x1="67.1" y1="744.13" x2="70.7" y2="744.13" stroke="#2f2f2f" stroke-width="1.6"/>
<line x1="67.1" y1="730.3" x2="74.1" y2="730.3" stroke="#2f2f2f" stroke-width="1.6"/>
<line x1="67.1" y1="716.47" x2="70.7" y2="716.47" stroke="#2f2f2f" stroke-width="1.6"/>
<line x1="67.1" y1="702.63" x2="74.1" y2="702.63" stroke="#2f2f2f" stroke-width="1.6"/>
<line x1="67.1" y1="896.3" x2="67.1" y2="889.1" stroke="#2f2f2f" stroke-width="1.6"/>
<line x1="78.32" y1="896.3" x2="78.32" y2="892.6" stroke="#2f2f2f" stroke-width="1.6"/>
<line x1="89.53" y1="896.3" x2="89.53" y2="889.1" stroke="#2f2f2f" stroke-width="1.6"/>
<line x1="100.75" y1="896.3" x2="100.75" y2="892.6" stroke="#2f2f2f" stroke-width="1.6"/>
<line x1="111.97" y1="896.3" x2="111.97" y2="889.1" stroke="#2f2f2f" stroke-width="1.6"/>
<line x1="123.18" y1="896.3" x2="123.18" y2="892.6" stroke="#2f2f2f" stroke-width="1.6"/>
<line x1="134.4" y1="896.3" x2="134.4" y2="889.1" stroke="#2f2f2f" stroke-width="1.6"/>
<line x1="145.62" y1="896.3" x2="145.62" y2="892.6" stroke="#2f2f2f" stroke-width="1.6"/>
<line x1="156.83" y1="896.3" x2="156.83" y2="889.1" stroke="#2f2f2f" stroke-width="1.6"/>
<line x1="168.05" y1="896.3" x2="168.05" y2="892.6" stroke="#2f2f2f" stroke-width="1.6"/>
<line x1="179.27" y1="896.3" x2="179.27" y2="889.1" stroke="#2f2f2f" stroke-width="1.6"/>
<line x1="190.48" y1="896.3" x2="190.48" y2="892.6" stroke="#2f2f2f" stroke-width="1.6"/>
<line x1="201.7" y1="896.3" x2="201.7" y2="889.1" stroke="#2f2f2f" stroke-width="1.6"/>
<line x1="212.92" y1="896.3" x2="212.92" y2="892.6" stroke="#2f2f2f" stroke-width="1.6"/>
<line x1="224.13" y1="896.3" x2="224.13" y2="889.1" stroke="#2f2f2f" stroke-width="1.6"/>
<line x1="235.35" y1="896.3" x2="235.35" y2="892.6" stroke="#2f2f2f" stroke-width="1.6"/>
<line x1="246.57" y1="896.3" x2="246.57" y2="889.1" stroke="#2f2f2f" stroke-width="1.6"/>
<line x1="257.78" y1="896.3" x2="257.78" y2="892.6" stroke="#2f2f2f" stroke-width="1.6"/>
<line x1="269" y1="896.3" x2="269" y2="889.1" stroke="#2f2f2f" stroke-width="1.6"/>
<line x1="269" y1="896.3" x2="269" y2="889.1" stroke="#2f2f2f" stroke-width="1.6"/>
<line x1="280.23" y1="896.3" x2="280.23" y2="892.6" stroke="#2f2f2f" stroke-width="1.6"/>
<line x1="291.47" y1="896.3" x2="291.47" y2="889.1" stroke="#2f2f2f" stroke-width="1.6"/>
<line x1="302.7" y1="896.3" x2="302.7" y2="892.6" stroke="#2f2f2f" stroke-width="1.6"/>
<line x1="313.93" y1="896.3" x2="313.93" y2="889.1" stroke="#2f2f2f" stroke-width="1.6"/>
<line x1="325.17" y1="896.3" x2="325.17" y2="892.6" stroke="#2f2f2f" stroke-width="1.6"/>
<line x1="336.4" y1="896.3" x2="336.4" y2="889.1" stroke="#2f2f2f" stroke-width="1.6"/>
<line x1="347.63" y1="896.3" x2="347.63" y2="892.6" stroke="#2f2f2f" stroke-width="1.6"/>
<line x1="358.87" y1="896.3" x2="358.87" y2="889.1" stroke="#2f2f2f" stroke-width="1.6"/>
<line x1="370.1" y1="896.3" x2="370.1" y2="892.6" stroke="#2f2f2f" stroke-width="1.6"/>
<line x1="381.33" y1="896.3" x2="381.33" y2="889.1" stroke="#2f2f2f" stroke-width="1.6"/>
<line x1="392.57" y1="896.3" x2="392.57" y2="892.6" stroke="#2f2f2f" stroke-width="1.6"/>
<line x1="403.8" y1="896.3" x2="403.8" y2="889.1" stroke="#2f2f2f" stroke-width="1.6"/>
<line x1="415.03" y1="896.3" x2="415.03" y2="892.6" stroke="#2f2f2f" stroke-width="1.6"/>
<line x1="426.27" y1="896.3" x2="426.27" y2="889.1" stroke="#2f2f2f" stroke-width="1.6"/>
<line x1="437.5" y1="896.3" x2="437.5" y2="892.6" stroke="#2f2f2f" stroke-width="1.6"/>
<line x1="448.73" y1="896.3" x2="448.73" y2="889.1" stroke="#2f2f2f" stroke-width="1.6"/>
<line x1="459.97" y1="896.3" x2="459.97" y2="892.6" stroke="#2f2f2f" stroke-width="1.6"/>
<line x1="471.2" y1="896.3" x2="471.2" y2="889.1" stroke="#2f2f2f" stroke-width="1.6"/>
<line x1="471.2" y1="896.3" x2="471.2" y2="889.1" stroke="#2f2f2f" stroke-width="1.6"/>
<line x1="482.41" y1="896.3" x2="482.41" y2="892.6" stroke="#2f2f2f" stroke-width="1.6"/>
<line x1="493.62" y1="896.3" x2="493.62" y2="889.1" stroke="#2f2f2f" stroke-width="1.6"/>
<line x1="504.83" y1="896.3" x2="504.83" y2="892.6" stroke="#2f2f2f" stroke-width="1.6"/>
<line x1="516.04" y1="896.3" x2="516.04" y2="889.1" stroke="#2f2f2f" stroke-width="1.6"/>
<line x1="527.26" y1="896.3" x2="527.26" y2="892.6" stroke="#2f2f2f" stroke-width="1.6"/>
<line x1="538.47" y1="896.3" x2="538.47" y2="889.1" stroke="#2f2f2f" stroke-width="1.6"/>
<line x1="549.68" y1="896.3" x2="549.68" y2="892.6" stroke="#2f2f2f" stroke-width="1.6"/>
<line x1="560.89" y1="896.3" x2="560.89" y2="889.1" stroke="#2f2f2f" stroke-width="1.6"/>
<line x1="572.1" y1="896.3" x2="572.1" y2="892.6" stroke="#2f2f2f" stroke-width="1.6"/>
<line x1="583.31" y1="896.3" x2="583.31" y2="889.1" stroke="#2f2f2f" stroke-width="1.6"/>
<line x1="594.52" y1="896.3" x2="594.52" y2="892.6" stroke="#2f2f2f" stroke-width="1.6"/>
<line x1="605.73" y1="896.3" x2="605.73" y2="889.1" stroke="#2f2f2f" stroke-width="1.6"/>
<line x1="616.94" y1="896.3" x2="616.94" y2="892.6" stroke="#2f2f2f" stroke-width="1.6"/>
<line x1="628.16" y1="896.3" x2="628.16" y2="889.1" stroke="#2f2f2f" stroke-width="1.6"/>
<line x1="639.37" y1="896.3" x2="639.37" y2="892.6" stroke="#2f2f2f" stroke-width="1.6"/>
<line x1="650.58" y1="896.3" x2="650.58" y2="889.1" stroke="#2f2f2f" stroke-width="1.6"/>
<line x1="661.79" y1="896.3" x2="661.79" y2="892.6" stroke="#2f2f2f" stroke-width="1.6"/>
<line x1="673" y1="896.3" x2="673" y2="889.1" stroke="#2f2f2f" stroke-width="1.6"/>
<text x="553.6" y="581.3" font-size="17.3" text-anchor="start">(21.82, 0.68)</text>
<text x="170.2" y="765.7" font-size="17.3" text-anchor="start">(26.54, 0.86)</text>
<text x="362.8" y="755.4" font-size="17.3" text-anchor="start">(26.66, 0.92)</text>
<text x="554.2" y="744.4" font-size="17.3" text-anchor="start">(27.30, 1.01)</text>
<text transform="translate(81.3,501.9) scale(1.0,1.06)" font-size="16" text-anchor="start">(g)</text>
<text transform="translate(119.8,501.9) scale(1.0,1.06)" font-size="16" text-anchor="start">Rn &lt; 30 J m<tspan dy="-5.5" font-size="10">-2</tspan><tspan dy="5.5"> s</tspan><tspan dy="-5.5" font-size="10">-1</tspan></text>
<text transform="translate(276.8,501.9) scale(1.0,1.06)" font-size="16" text-anchor="start">(h)</text>
<text transform="translate(304,501.9) scale(1.0,1.06)" font-size="16" text-anchor="start">30 &#8804; Rn &lt; 180 J m<tspan dy="-5.5" font-size="10">-2</tspan><tspan dy="5.5"> s</tspan><tspan dy="-5.5" font-size="10">-1</tspan></text>
<text transform="translate(478.8,501.9) scale(1.0,1.06)" font-size="16" text-anchor="start">(i)</text>
<text transform="translate(499.8,501.9) scale(1.0,1.06)" font-size="16" text-anchor="start">180 &#8804; Rn &lt; 330 J m<tspan dy="-5.5" font-size="10">-2</tspan><tspan dy="5.5"> s</tspan><tspan dy="-5.5" font-size="10">-1</tspan></text>
<text transform="translate(81.2,712.6) scale(1.0,1.06)" font-size="16" text-anchor="start">(j)</text>
<text transform="translate(101.8,712.6) scale(1.0,1.06)" font-size="16" text-anchor="start">330 &#8804; Rn &lt; 480 J m<tspan dy="-5.5" font-size="10">-2</tspan><tspan dy="5.5"> s</tspan><tspan dy="-5.5" font-size="10">-1</tspan></text>
<text transform="translate(276.4,712.6) scale(1.0,1.06)" font-size="16" text-anchor="start">(k)</text>
<text transform="translate(304.4,712.6) scale(1.0,1.06)" font-size="16" text-anchor="start">480 &#8804; Rn &lt; 630 J m<tspan dy="-5.5" font-size="10">-2</tspan><tspan dy="5.5"> s</tspan><tspan dy="-5.5" font-size="10">-1</tspan></text>
<text transform="translate(479.3,712.6) scale(1.0,1.06)" font-size="16" text-anchor="start">(l)</text>
<text transform="translate(519.1,712.6) scale(1.0,1.06)" font-size="16" text-anchor="start">Rn &#8805; 630 J m<tspan dy="-5.5" font-size="10">-2</tspan><tspan dy="5.5"> s</tspan><tspan dy="-5.5" font-size="10">-1</tspan></text>
<line x1="139.7" y1="524.1" x2="174.6" y2="524.1" stroke="#72bf91" stroke-width="1.6"/>
<rect x="154.65" y="521.6" width="5" height="5" fill="#72bf91"/>
<text transform="translate(179,529.6) scale(1.0,1.06)" font-size="15" text-anchor="start">post-thinning</text>
<text transform="translate(57.4,666.58) scale(1.0,1.06)" font-size="16" text-anchor="end">0.2</text>
<text transform="translate(57.4,638.86) scale(1.0,1.06)" font-size="16" text-anchor="end">0.4</text>
<text transform="translate(57.4,611.14) scale(1.0,1.06)" font-size="16" text-anchor="end">0.6</text>
<text transform="translate(57.4,583.42) scale(1.0,1.06)" font-size="16" text-anchor="end">0.8</text>
<text transform="translate(57.4,555.7) scale(1.0,1.06)" font-size="16" text-anchor="end">1.0</text>
<text transform="translate(57.4,527.98) scale(1.0,1.06)" font-size="16" text-anchor="end">1.2</text>
<text transform="translate(57.4,500.26) scale(1.0,1.06)" font-size="16" text-anchor="end">1.4</text>
<text transform="translate(57.4,901.8) scale(1.0,1.06)" font-size="16" text-anchor="end">0.0</text>
<text transform="translate(57.4,874.13) scale(1.0,1.06)" font-size="16" text-anchor="end">0.2</text>
<text transform="translate(57.4,846.47) scale(1.0,1.06)" font-size="16" text-anchor="end">0.4</text>
<text transform="translate(57.4,818.8) scale(1.0,1.06)" font-size="16" text-anchor="end">0.6</text>
<text transform="translate(57.4,791.13) scale(1.0,1.06)" font-size="16" text-anchor="end">0.8</text>
<text transform="translate(57.4,763.47) scale(1.0,1.06)" font-size="16" text-anchor="end">1.0</text>
<text transform="translate(57.4,735.8) scale(1.0,1.06)" font-size="16" text-anchor="end">1.2</text>
<text transform="translate(57.4,708.13) scale(1.0,1.06)" font-size="16" text-anchor="end">1.4</text>
<text transform="translate(67.1,917.8) scale(1.0,1.06)" font-size="16" text-anchor="middle">-5</text>
<text transform="translate(89.53,917.8) scale(1.0,1.06)" font-size="16" text-anchor="middle">0</text>
<text transform="translate(111.97,917.8) scale(1.0,1.06)" font-size="16" text-anchor="middle">5</text>
<text transform="translate(134.4,917.8) scale(1.0,1.06)" font-size="16" text-anchor="middle">10</text>
<text transform="translate(156.83,917.8) scale(1.0,1.06)" font-size="16" text-anchor="middle">15</text>
<text transform="translate(179.27,917.8) scale(1.0,1.06)" font-size="16" text-anchor="middle">20</text>
<text transform="translate(201.7,917.8) scale(1.0,1.06)" font-size="16" text-anchor="middle">25</text>
<text transform="translate(224.13,917.8) scale(1.0,1.06)" font-size="16" text-anchor="middle">30</text>
<text transform="translate(246.57,917.8) scale(1.0,1.06)" font-size="16" text-anchor="middle">35</text>
<text transform="translate(269,917.8) scale(1.0,1.06)" font-size="16" text-anchor="middle">40</text>
<text x="168.05" y="939.7" font-size="17" text-anchor="middle">Ta (&#176;C)</text>
<text transform="translate(291.47,917.8) scale(1.0,1.06)" font-size="16" text-anchor="middle">0</text>
<text transform="translate(313.93,917.8) scale(1.0,1.06)" font-size="16" text-anchor="middle">5</text>
<text transform="translate(336.4,917.8) scale(1.0,1.06)" font-size="16" text-anchor="middle">10</text>
<text transform="translate(358.87,917.8) scale(1.0,1.06)" font-size="16" text-anchor="middle">15</text>
<text transform="translate(381.33,917.8) scale(1.0,1.06)" font-size="16" text-anchor="middle">20</text>
<text transform="translate(403.8,917.8) scale(1.0,1.06)" font-size="16" text-anchor="middle">25</text>
<text transform="translate(426.27,917.8) scale(1.0,1.06)" font-size="16" text-anchor="middle">30</text>
<text transform="translate(448.73,917.8) scale(1.0,1.06)" font-size="16" text-anchor="middle">35</text>
<text transform="translate(471.2,917.8) scale(1.0,1.06)" font-size="16" text-anchor="middle">40</text>
<text x="370.1" y="939.7" font-size="17" text-anchor="middle">Ta (&#176;C)</text>
<text transform="translate(493.62,917.8) scale(1.0,1.06)" font-size="16" text-anchor="middle">0</text>
<text transform="translate(516.04,917.8) scale(1.0,1.06)" font-size="16" text-anchor="middle">5</text>
<text transform="translate(538.47,917.8) scale(1.0,1.06)" font-size="16" text-anchor="middle">10</text>
<text transform="translate(560.89,917.8) scale(1.0,1.06)" font-size="16" text-anchor="middle">15</text>
<text transform="translate(583.31,917.8) scale(1.0,1.06)" font-size="16" text-anchor="middle">20</text>
<text transform="translate(605.73,917.8) scale(1.0,1.06)" font-size="16" text-anchor="middle">25</text>
<text transform="translate(628.16,917.8) scale(1.0,1.06)" font-size="16" text-anchor="middle">30</text>
<text transform="translate(650.58,917.8) scale(1.0,1.06)" font-size="16" text-anchor="middle">35</text>
<text transform="translate(673,917.8) scale(1.0,1.06)" font-size="16" text-anchor="middle">40</text>
<text x="572.1" y="939.7" font-size="17" text-anchor="middle">Ta (&#176;C)</text>
<text transform="translate(25.3,583.35) rotate(-90) scale(1.06,1)" font-size="16.5" text-anchor="middle">GPP (mg CO<tspan dy="3.8" font-size="11.5">2</tspan><tspan dy="-3.8"> m</tspan><tspan dy="-7" font-size="11.5">-2</tspan><tspan dy="7"> s</tspan><tspan dy="-7" font-size="11.5">-1</tspan><tspan dy="7">)</tspan></text>
<text transform="translate(25.3,791.05) rotate(-90) scale(1.06,1)" font-size="16.5" text-anchor="middle">GPP (mg CO<tspan dy="3.8" font-size="11.5">2</tspan><tspan dy="-3.8"> m</tspan><tspan dy="-7" font-size="11.5">-2</tspan><tspan dy="7"> s</tspan><tspan dy="-7" font-size="11.5">-1</tspan><tspan dy="7">)</tspan></text>
<line x1="66" y1="1003.2" x2="341.3" y2="1003.2" stroke="#72bf91" stroke-width="1.6" stroke-dasharray="7.7 4 3 4 3 3.5"/>
<line x1="66" y1="1012.6" x2="341.3" y2="1012.6" stroke="#8bc2f5" stroke-width="1.6" stroke-dasharray="7.7 4 3 4 3 3.5"/>
<text transform="translate(85.4,996.9) scale(1.0,1.04)" font-size="14.7" text-anchor="start">post-thinning optimum : 30.35 &#176;C</text>
<text transform="translate(85.4,1026.1) scale(1.0,1.04)" font-size="14.7" text-anchor="start">pre-thinning optimum : 29.66 &#176;C</text>
<text transform="translate(75.8,971.4) scale(1.0,1.06)" font-size="14.5" text-anchor="start">(m)</text>
<polyline points="88.9,1139.2 159.1,1136.5 226.2,1058.2 296.8,1048.5" fill="none" stroke="#8bc2f5" stroke-width="1.7" stroke-linejoin="round"/>
<rect x="86.6" y="1136.9" width="4.6" height="4.6" fill="#8bc2f5"/>
<rect x="156.8" y="1134.2" width="4.6" height="4.6" fill="#8bc2f5"/>
<rect x="223.9" y="1055.9" width="4.6" height="4.6" fill="#8bc2f5"/>
<rect x="294.5" y="1046.2" width="4.6" height="4.6" fill="#8bc2f5"/>
<polyline points="90.1,1120.8 159.1,1055.8 227,1053.8 292.4,1045.3" fill="none" stroke="#72bf91" stroke-width="1.7" stroke-linejoin="round"/>
<circle cx="90.1" cy="1120.8" r="2.7" fill="#72bf91"/>
<circle cx="159.1" cy="1055.8" r="2.7" fill="#72bf91"/>
<circle cx="227" cy="1053.8" r="2.7" fill="#72bf91"/>
<circle cx="292.4" cy="1045.3" r="2.7" fill="#72bf91"/>
<rect x="66" y="952.9" width="275.3" height="220.9" fill="none" stroke="#1c1c1c" stroke-width="1.8"/>
<line x1="66" y1="1173.8" x2="69.6" y2="1173.8" stroke="#1c1c1c" stroke-width="1.6"/>
<text transform="translate(60.7,1178.5) scale(1.0,1.06)" font-size="14" text-anchor="end">18</text>
<line x1="66" y1="1159.99" x2="68" y2="1159.99" stroke="#1c1c1c" stroke-width="1.6"/>
<line x1="66" y1="1146.19" x2="69.6" y2="1146.19" stroke="#1c1c1c" stroke-width="1.6"/>
<text transform="translate(60.7,1150.89) scale(1.0,1.06)" font-size="14" text-anchor="end">20</text>
<line x1="66" y1="1132.38" x2="68" y2="1132.38" stroke="#1c1c1c" stroke-width="1.6"/>
<line x1="66" y1="1118.58" x2="69.6" y2="1118.58" stroke="#1c1c1c" stroke-width="1.6"/>
<text transform="translate(60.7,1123.28) scale(1.0,1.06)" font-size="14" text-anchor="end">22</text>
<line x1="66" y1="1104.77" x2="68" y2="1104.77" stroke="#1c1c1c" stroke-width="1.6"/>
<line x1="66" y1="1090.96" x2="69.6" y2="1090.96" stroke="#1c1c1c" stroke-width="1.6"/>
<text transform="translate(60.7,1095.66) scale(1.0,1.06)" font-size="14" text-anchor="end">24</text>
<line x1="66" y1="1077.16" x2="68" y2="1077.16" stroke="#1c1c1c" stroke-width="1.6"/>
<line x1="66" y1="1063.35" x2="69.6" y2="1063.35" stroke="#1c1c1c" stroke-width="1.6"/>
<text transform="translate(60.7,1068.05) scale(1.0,1.06)" font-size="14" text-anchor="end">26</text>
<line x1="66" y1="1049.54" x2="68" y2="1049.54" stroke="#1c1c1c" stroke-width="1.6"/>
<line x1="66" y1="1035.74" x2="69.6" y2="1035.74" stroke="#1c1c1c" stroke-width="1.6"/>
<text transform="translate(60.7,1040.44) scale(1.0,1.06)" font-size="14" text-anchor="end">28</text>
<line x1="66" y1="1021.93" x2="68" y2="1021.93" stroke="#1c1c1c" stroke-width="1.6"/>
<line x1="66" y1="1008.12" x2="69.6" y2="1008.12" stroke="#1c1c1c" stroke-width="1.6"/>
<text transform="translate(60.7,1012.83) scale(1.0,1.06)" font-size="14" text-anchor="end">30</text>
<line x1="66" y1="994.32" x2="68" y2="994.32" stroke="#1c1c1c" stroke-width="1.6"/>
<line x1="66" y1="980.51" x2="69.6" y2="980.51" stroke="#1c1c1c" stroke-width="1.6"/>
<text transform="translate(60.7,985.21) scale(1.0,1.06)" font-size="14" text-anchor="end">32</text>
<line x1="66" y1="966.71" x2="68" y2="966.71" stroke="#1c1c1c" stroke-width="1.6"/>
<line x1="66" y1="952.9" x2="69.6" y2="952.9" stroke="#1c1c1c" stroke-width="1.6"/>
<text transform="translate(60.7,957.6) scale(1.0,1.06)" font-size="14" text-anchor="end">34</text>
<line x1="66" y1="1173.8" x2="66" y2="1170" stroke="#1c1c1c" stroke-width="1.6"/>
<text transform="translate(66,1189.6) scale(1.0,1.06)" font-size="14" text-anchor="middle">200</text>
<line x1="88.94" y1="1173.8" x2="88.94" y2="1171.6" stroke="#1c1c1c" stroke-width="1.6"/>
<line x1="111.88" y1="1173.8" x2="111.88" y2="1170" stroke="#1c1c1c" stroke-width="1.6"/>
<text transform="translate(111.88,1189.6) scale(1.0,1.06)" font-size="14" text-anchor="middle">300</text>
<line x1="134.82" y1="1173.8" x2="134.82" y2="1171.6" stroke="#1c1c1c" stroke-width="1.6"/>
<line x1="157.77" y1="1173.8" x2="157.77" y2="1170" stroke="#1c1c1c" stroke-width="1.6"/>
<text transform="translate(157.77,1189.6) scale(1.0,1.06)" font-size="14" text-anchor="middle">400</text>
<line x1="180.71" y1="1173.8" x2="180.71" y2="1171.6" stroke="#1c1c1c" stroke-width="1.6"/>
<line x1="203.65" y1="1173.8" x2="203.65" y2="1170" stroke="#1c1c1c" stroke-width="1.6"/>
<text transform="translate(203.65,1189.6) scale(1.0,1.06)" font-size="14" text-anchor="middle">500</text>
<line x1="226.59" y1="1173.8" x2="226.59" y2="1171.6" stroke="#1c1c1c" stroke-width="1.6"/>
<line x1="249.53" y1="1173.8" x2="249.53" y2="1170" stroke="#1c1c1c" stroke-width="1.6"/>
<text transform="translate(249.53,1189.6) scale(1.0,1.06)" font-size="14" text-anchor="middle">600</text>
<line x1="272.48" y1="1173.8" x2="272.48" y2="1171.6" stroke="#1c1c1c" stroke-width="1.6"/>
<line x1="295.42" y1="1173.8" x2="295.42" y2="1170" stroke="#1c1c1c" stroke-width="1.6"/>
<text transform="translate(295.42,1189.6) scale(1.0,1.06)" font-size="14" text-anchor="middle">700</text>
<line x1="318.36" y1="1173.8" x2="318.36" y2="1171.6" stroke="#1c1c1c" stroke-width="1.6"/>
<line x1="341.3" y1="1173.8" x2="341.3" y2="1170" stroke="#1c1c1c" stroke-width="1.6"/>
<text transform="translate(341.3,1189.6) scale(1.0,1.06)" font-size="14" text-anchor="middle">800</text>
<text transform="translate(203.65,1210.6) scale(1.0,1.06)" font-size="18.6" text-anchor="middle">Rn (J m<tspan dy="-7" font-size="12.5">-2</tspan><tspan dy="7"> s</tspan><tspan dy="-7" font-size="12.5">-1</tspan><tspan dy="7">)</tspan></text>
<text transform="translate(37,1063) rotate(-90) scale(1.06,1)" font-size="16" text-anchor="middle">Ta<tspan dy="4" font-size="10.8">opt</tspan><tspan dy="-4"> (&#176;C)</tspan></text>
<polyline points="419,1131.2 489.4,1096.8 556.6,1077.6 627,1074" fill="none" stroke="#8bc2f5" stroke-width="1.7" stroke-linejoin="round"/>
<rect x="416.7" y="1128.9" width="4.6" height="4.6" fill="#8bc2f5"/>
<rect x="487.1" y="1094.5" width="4.6" height="4.6" fill="#8bc2f5"/>
<rect x="554.3" y="1075.3" width="4.6" height="4.6" fill="#8bc2f5"/>
<rect x="624.7" y="1071.7" width="4.6" height="4.6" fill="#8bc2f5"/>
<polyline points="420.2,1117.2 489.4,1080.8 557.4,1069.2 623,1050" fill="none" stroke="#72bf91" stroke-width="1.7" stroke-linejoin="round"/>
<circle cx="420.2" cy="1117.2" r="2.7" fill="#72bf91"/>
<circle cx="489.4" cy="1080.8" r="2.7" fill="#72bf91"/>
<circle cx="557.4" cy="1069.2" r="2.7" fill="#72bf91"/>
<circle cx="623" cy="1050" r="2.7" fill="#72bf91"/>
<rect x="396.9" y="952.2" width="274.3" height="221.1" fill="none" stroke="#1c1c1c" stroke-width="1.8"/>
<line x1="396.9" y1="1173.3" x2="400.5" y2="1173.3" stroke="#1c1c1c" stroke-width="1.6"/>
<text transform="translate(391.1,1178) scale(1.0,1.06)" font-size="14" text-anchor="end">0.4</text>
<line x1="396.9" y1="1153.2" x2="398.9" y2="1153.2" stroke="#1c1c1c" stroke-width="1.6"/>
<line x1="396.9" y1="1133.1" x2="400.5" y2="1133.1" stroke="#1c1c1c" stroke-width="1.6"/>
<text transform="translate(391.1,1137.8) scale(1.0,1.06)" font-size="14" text-anchor="end">0.6</text>
<line x1="396.9" y1="1113" x2="398.9" y2="1113" stroke="#1c1c1c" stroke-width="1.6"/>
<line x1="396.9" y1="1092.9" x2="400.5" y2="1092.9" stroke="#1c1c1c" stroke-width="1.6"/>
<text transform="translate(391.1,1097.6) scale(1.0,1.06)" font-size="14" text-anchor="end">0.8</text>
<line x1="396.9" y1="1072.8" x2="398.9" y2="1072.8" stroke="#1c1c1c" stroke-width="1.6"/>
<line x1="396.9" y1="1052.7" x2="400.5" y2="1052.7" stroke="#1c1c1c" stroke-width="1.6"/>
<text transform="translate(391.1,1057.4) scale(1.0,1.06)" font-size="14" text-anchor="end">1.0</text>
<line x1="396.9" y1="1032.6" x2="398.9" y2="1032.6" stroke="#1c1c1c" stroke-width="1.6"/>
<line x1="396.9" y1="1012.5" x2="400.5" y2="1012.5" stroke="#1c1c1c" stroke-width="1.6"/>
<text transform="translate(391.1,1017.2) scale(1.0,1.06)" font-size="14" text-anchor="end">1.2</text>
<line x1="396.9" y1="992.4" x2="398.9" y2="992.4" stroke="#1c1c1c" stroke-width="1.6"/>
<line x1="396.9" y1="972.3" x2="400.5" y2="972.3" stroke="#1c1c1c" stroke-width="1.6"/>
<text transform="translate(391.1,977) scale(1.0,1.06)" font-size="14" text-anchor="end">1.4</text>
<line x1="396.9" y1="1173.3" x2="396.9" y2="1169.5" stroke="#1c1c1c" stroke-width="1.6"/>
<text transform="translate(396.9,1189.6) scale(1.0,1.06)" font-size="14" text-anchor="middle">200</text>
<line x1="419.76" y1="1173.3" x2="419.76" y2="1171.1" stroke="#1c1c1c" stroke-width="1.6"/>
<line x1="442.62" y1="1173.3" x2="442.62" y2="1169.5" stroke="#1c1c1c" stroke-width="1.6"/>
<text transform="translate(442.62,1189.6) scale(1.0,1.06)" font-size="14" text-anchor="middle">300</text>
<line x1="465.48" y1="1173.3" x2="465.48" y2="1171.1" stroke="#1c1c1c" stroke-width="1.6"/>
<line x1="488.33" y1="1173.3" x2="488.33" y2="1169.5" stroke="#1c1c1c" stroke-width="1.6"/>
<text transform="translate(488.33,1189.6) scale(1.0,1.06)" font-size="14" text-anchor="middle">400</text>
<line x1="511.19" y1="1173.3" x2="511.19" y2="1171.1" stroke="#1c1c1c" stroke-width="1.6"/>
<line x1="534.05" y1="1173.3" x2="534.05" y2="1169.5" stroke="#1c1c1c" stroke-width="1.6"/>
<text transform="translate(534.05,1189.6) scale(1.0,1.06)" font-size="14" text-anchor="middle">500</text>
<line x1="556.91" y1="1173.3" x2="556.91" y2="1171.1" stroke="#1c1c1c" stroke-width="1.6"/>
<line x1="579.77" y1="1173.3" x2="579.77" y2="1169.5" stroke="#1c1c1c" stroke-width="1.6"/>
<text transform="translate(579.77,1189.6) scale(1.0,1.06)" font-size="14" text-anchor="middle">600</text>
<line x1="602.62" y1="1173.3" x2="602.62" y2="1171.1" stroke="#1c1c1c" stroke-width="1.6"/>
<line x1="625.48" y1="1173.3" x2="625.48" y2="1169.5" stroke="#1c1c1c" stroke-width="1.6"/>
<text transform="translate(625.48,1189.6) scale(1.0,1.06)" font-size="14" text-anchor="middle">700</text>
<line x1="648.34" y1="1173.3" x2="648.34" y2="1171.1" stroke="#1c1c1c" stroke-width="1.6"/>
<line x1="671.2" y1="1173.3" x2="671.2" y2="1169.5" stroke="#1c1c1c" stroke-width="1.6"/>
<text transform="translate(671.2,1189.6) scale(1.0,1.06)" font-size="14" text-anchor="middle">800</text>
<text transform="translate(534.05,1210.6) scale(1.0,1.06)" font-size="18.6" text-anchor="middle">Rn (J m<tspan dy="-7" font-size="12.5">-2</tspan><tspan dy="7"> s</tspan><tspan dy="-7" font-size="12.5">-1</tspan><tspan dy="7">)</tspan></text>
<text transform="translate(364,1062.5) rotate(-90) scale(1.05,1)" font-size="16" text-anchor="middle">GPP<tspan dy="4" font-size="11">max</tspan><tspan dy="-4"> (mg CO</tspan><tspan dy="4" font-size="11">2</tspan><tspan dy="-4"> m</tspan><tspan dy="-6.5" font-size="11">-2</tspan><tspan dy="6.5"> s</tspan><tspan dy="-6.5" font-size="11">-1</tspan><tspan dy="6.5">)</tspan></text>
<text transform="translate(405.8,971.3) scale(1.0,1.06)" font-size="14.5" text-anchor="start">(n)</text>
<line x1="543.3" y1="972.8" x2="577" y2="972.8" stroke="#8bc2f5" stroke-width="1.4"/>
<rect x="558" y="970.6" width="4.4" height="4.4" fill="#8bc2f5"/>
<text transform="translate(580.1,977.5) scale(1.0,1.06)" font-size="14.6" text-anchor="start">pre-thinning</text>
<line x1="543.3" y1="991.2" x2="577" y2="991.2" stroke="#72bf91" stroke-width="1.4"/>
<circle cx="560.2" cy="991.2" r="2.4" fill="#72bf91"/>
<text transform="translate(580.1,995.9) scale(1.0,1.06)" font-size="14.6" text-anchor="start">post-thinning</text>
</svg>
</body></html>
